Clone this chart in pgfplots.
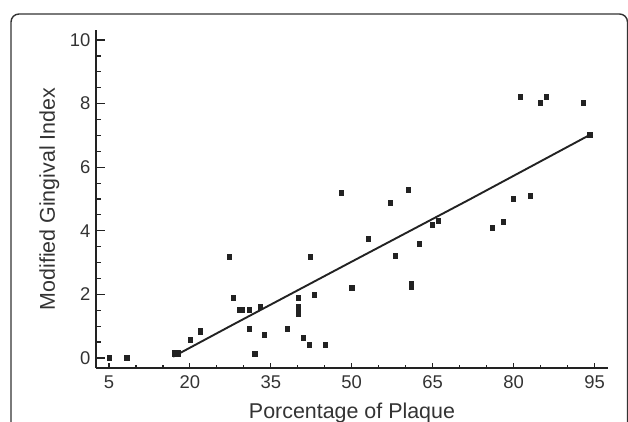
\documentclass[border=0pt]{standalone}
\usepackage{pgfplots}
\pgfplotsset{compat=1.18}
\usepackage{fontspec}
\setmainfont{Liberation Sans}
\definecolor{ink}{HTML}{222222}
\definecolor{txt}{HTML}{333333}
\begin{document}
\begin{tikzpicture}[x=1bp,y=1bp]
\useasboundingbox (0,0) rectangle (628,421);
\draw[rounded corners=8bp, line width=1.4bp, color=txt] (11,-30) -- (11,407) -- (627.5,407) -- (627.5,-30);
% x axis + data
\begin{axis}[
  at={(96bp,53bp)}, anchor=south west,
  scale only axis, width=512bp, height=338bp,
  xmin=2.6, xmax=97.5, ymin=-0.315, ymax=10.315,
  axis x line*=bottom, axis y line=none,
  axis line style={line width=2bp, color=ink},
  xtick={5,20,...,95}, minor x tick num=2,
  tick align=inside,
  major tick length=5bp, minor tick length=3.5bp,
  every tick/.style={line width=1.2bp, color=ink},
  /pgf/number format/assume math mode=true,
  xticklabel style={font=\fontsize{18.5}{20}\selectfont, text=txt, yshift=-4bp},
  xlabel={Porcentage of Plaque},
  xlabel style={at={(axis description cs:0.5,-0.148)}, anchor=base, font=\fontsize{21.5}{24}\selectfont, text=txt},
  clip=false,
]
\addplot[only marks, mark=square*, mark size=2.6bp, mark options={xscale=0.8, fill=ink, draw=ink}] coordinates {
(5,0) (8.3,0) (17.1,0.15) (17.6,0.15) (17.9,0.15) (20.0,0.58) (21.9,0.84)
(27.3,3.18) (28.1,1.90) (29.1,1.51) (29.6,1.51) (31.0,1.51) (31.0,0.91)
(32.0,0.13) (33.1,1.61) (33.7,0.72) (38.0,0.91) (40.1,1.90) (40.1,1.60)
(40.1,1.41) (41.0,0.65) (42.1,0.42) (42.3,3.18) (43.0,2.0) (45.1,0.42)
(48.0,5.19) (50.0,2.2) (53.0,3.75) (57.1,4.88) (58.0,3.22) (61.0,2.32)
(61.0,2.26) (62.5,3.6) (64.9,4.2) (66.0,4.31) (76.0,4.09) (78.0,4.28)
(80.0,5.0) (60.5,5.30) (83.0,5.11) (81.3,8.21) (85.0,8.02) (86.1,8.21)
(92.9,8.02) (94.1,7.02)
};
\addplot[no marks, line width=1.9bp, color=ink] coordinates {(16.9,0.04) (28,1.05) (50,3.03) (72,5.0) (94.5,7.05)};
\end{axis}
% y axis
\begin{axis}[
  at={(96bp,53bp)}, anchor=south west,
  scale only axis, width=512bp, height=338bp,
  xmin=2.6, xmax=97.5, ymin=-0.315, ymax=10.315,
  axis y line*=left, axis x line=none,
  axis line style={line width=2bp, color=ink},
  ytick={0,2,...,10}, minor y tick num=3,
  tick align=inside,
  major tick length=9bp, minor tick length=4.5bp,
  every tick/.style={line width=1.2bp, color=ink},
  /pgf/number format/assume math mode=true,
  yticklabel style={font=\fontsize{18.5}{20}\selectfont, text=txt, xshift=-2bp},
  ylabel={Modified Gingival Index},
  ylabel style={at={(axis description cs:-0.0801,0.5)}, anchor=base, font=\fontsize{21.5}{24}\selectfont, text=txt},
]
\end{axis}
\end{tikzpicture}
\end{document}
